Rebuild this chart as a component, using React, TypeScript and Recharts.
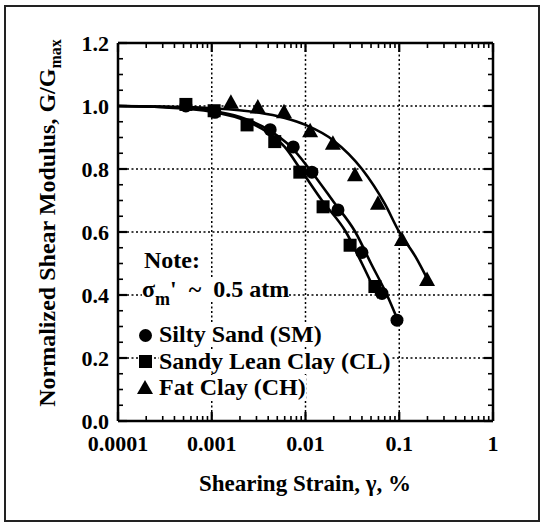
import React from "react";
import {
  ComposedChart,
  XAxis,
  YAxis,
  Line,
  Scatter,
  Legend,
} from "recharts";

const FONT = "Liberation Serif";

// axis ticks
const strainTicks = [0.0001, 0.001, 0.01, 0.1, 1];
const strainMinorTicks = [
  0.0002, 0.0003, 0.0004, 0.0005, 0.0006, 0.0007, 0.0008, 0.0009,
  0.002, 0.003, 0.004, 0.005, 0.006, 0.007, 0.008, 0.009,
  0.02, 0.03, 0.04, 0.05, 0.06, 0.07, 0.08, 0.09,
  0.2, 0.3, 0.4, 0.5, 0.6, 0.7, 0.8, 0.9,
];
const modulusTicks = [0, 0.2, 0.4, 0.6, 0.8, 1.0, 1.2];
const modulusMinorTicks = [
  0.05, 0.1, 0.15, 0.25, 0.3, 0.35, 0.45, 0.5, 0.55, 0.65, 0.7, 0.75,
  0.85, 0.9, 0.95, 1.05, 1.1, 1.15,
];

const seriesNames = ["Silty Sand (SM)", "Sandy Lean Clay (CL)", "Fat Clay (CH)"];

// measured points
const smStrain = [0.00053, 0.00108, 0.0042, 0.0074, 0.0117, 0.0222, 0.04, 0.0655, 0.0946];
const smRatio = [1.0, 0.98, 0.925, 0.87, 0.79, 0.67, 0.535, 0.405, 0.32];
const clStrain = [0.00053, 0.00106, 0.00238, 0.0047, 0.0087, 0.0154, 0.0299, 0.055];
const clRatio = [1.005, 0.985, 0.94, 0.887, 0.79, 0.68, 0.558, 0.427];
const chStrain = [0.0016, 0.0031, 0.0059, 0.0112, 0.0196, 0.0337, 0.0593, 0.107, 0.198];
const chRatio = [1.01, 0.995, 0.98, 0.92, 0.88, 0.78, 0.69, 0.575, 0.448];

// fitted curves
const smFitStrain = [0.0001, 0.0003, 0.001, 0.002, 0.004, 0.007, 0.011, 0.02, 0.034, 0.05, 0.074, 0.095];
const smFitRatio = [1.0, 0.997, 0.985, 0.965, 0.925, 0.87, 0.8, 0.695, 0.6, 0.5, 0.4, 0.325];
const clFitStrain = [0.0001, 0.0003, 0.001, 0.002, 0.004, 0.006, 0.0088, 0.015, 0.027, 0.04, 0.06];
const clFitRatio = [1.0, 0.996, 0.982, 0.96, 0.915, 0.87, 0.8, 0.7, 0.6, 0.5, 0.39];
const chFitStrain = [0.0001, 0.0003, 0.001, 0.003, 0.006, 0.01, 0.02, 0.04, 0.07, 0.1, 0.15, 0.2];
const chFitRatio = [1.0, 0.998, 0.993, 0.98, 0.962, 0.94, 0.89, 0.8, 0.69, 0.6, 0.52, 0.45];

const rows = (xs: number[], ys: number[]) => xs.map((x, i) => ({ x, y: ys[i] }));

const xMin = strainTicks[0];
const xMax = strainTicks[strainTicks.length - 1];
const yMin = modulusTicks[0];
const yMax = modulusTicks[modulusTicks.length - 1];
const allStrainTicks = [...strainTicks, ...strainMinorTicks].sort((a, b) => a - b);
const allModulusTicks = [...modulusTicks, ...modulusMinorTicks].sort((a, b) => a - b);

// tick-mark rows along each side of the frame
const bottomTicks = allStrainTicks.map((x) => ({ x, y: yMin, major: strainTicks.includes(x) }));
const topTicks = allStrainTicks.map((x) => ({ x, y: yMax, major: strainTicks.includes(x) }));
const leftTicks = allModulusTicks.map((y) => ({ x: xMin, y, major: modulusTicks.includes(y) }));
const rightTicks = allModulusTicks.map((y) => ({ x: xMax, y, major: modulusTicks.includes(y) }));

const isMajor = (p: any) => Boolean(p.payload?.major ?? p.major);
const tickLen = (p: any) => (isMajor(p) ? 9 : 5);
const tickW = (p: any) => (isMajor(p) ? 2.2 : 1.6);
const BottomMark = (p: any) => <line x1={p.cx} x2={p.cx} y1={p.cy} y2={p.cy - tickLen(p)} stroke="#000" strokeWidth={tickW(p)} />;
const TopMark = (p: any) => <line x1={p.cx} x2={p.cx} y1={p.cy} y2={p.cy + tickLen(p)} stroke="#000" strokeWidth={tickW(p)} />;
const LeftMark = (p: any) => <line x1={p.cx} x2={p.cx + tickLen(p)} y1={p.cy} y2={p.cy} stroke="#000" strokeWidth={tickW(p)} />;
const RightMark = (p: any) => <line x1={p.cx} x2={p.cx - tickLen(p)} y1={p.cy} y2={p.cy} stroke="#000" strokeWidth={tickW(p)} />;

const Dot = (p: any) => <circle cx={p.cx} cy={p.cy} r={6.5} fill="#000" />;
const Box = (p: any) => <rect x={p.cx - 6.5} y={p.cy - 6.5} width={13} height={13} fill="#000" />;
const Tri = (p: any) => (
  <polygon points={`${p.cx},${p.cy - 8.5} ${p.cx - 8},${p.cy + 6} ${p.cx + 8},${p.cy + 6}`} fill="#000" />
);

function StrainLabel(props: any) {
  const v = props.payload.value;
  if (!strainTicks.includes(v)) return null;
  return (
    <text x={props.x} y={props.y} dy="0.71em" textAnchor="middle" fontFamily={FONT} fontSize={22} fontWeight={700} fill="#000">
      {String(v)}
    </text>
  );
}

function ModulusLabel(props: any) {
  const v = props.payload.value;
  if (!modulusTicks.includes(v)) return null;
  return (
    <text x={props.x} y={props.y} dy="0.355em" textAnchor="end" fontFamily={FONT} fontSize={22} fontWeight={700} fill="#000">
      {v.toFixed(1)}
    </text>
  );
}

function XTitle() {
  return (
    <text x={305} y={491} textAnchor="middle" fontFamily={FONT} fontSize={23} fontWeight={700} fill="#000">
      Shearing Strain, γ, %
    </text>
  );
}

function YTitle() {
  return (
    <text
      x={55}
      y={223}
      transform="rotate(-90 55 223)"
      textAnchor="middle"
      fontFamily={FONT}
      fontSize={24}
      fontWeight={700}
      fill="#000"
    >
      Normalized Shear Modulus, G/G<tspan dy={6} fontSize={16}>max</tspan>
    </text>
  );
}

const txt: React.CSSProperties = {
  position: "absolute",
  fontFamily: FONT,
  fontSize: 24,
  fontWeight: 700,
  lineHeight: "24px",
  whiteSpace: "pre",
  background: "#fff",
  color: "#000",
};

function legendMark(type: string, top: number) {
  if (type === "circle")
    return <div style={{ position: "absolute", left: 10.5, top, width: 13, height: 13, borderRadius: "50%", background: "#000" }} />;
  if (type === "square")
    return <div style={{ position: "absolute", left: 10.5, top, width: 13, height: 13, background: "#000" }} />;
  return (
    <div
      style={{
        position: "absolute",
        left: 9,
        top: top - 2,
        width: 0,
        height: 0,
        borderLeft: "8px solid transparent",
        borderRight: "8px solid transparent",
        borderBottom: "14.5px solid #000",
      }}
    />
  );
}

function NoteLegend(props: any) {
  const payload = props.payload || [];
  const types = ["circle", "square", "triangle"];
  return (
    <div style={{ position: "relative", width: 300, height: 165 }}>
      <div style={{ ...txt, left: 16, top: 3 }}>Note:</div>
      <div style={{ ...txt, left: 14, top: 32 }}>
        σ<span style={{ fontSize: 18, verticalAlign: "-8px", lineHeight: 0 }}>m</span>
        {"'  ~  0.5 atm"}
      </div>
      {seriesNames.map((name, i) => {
        const entry = payload.find((e: any) => e.value === name);
        const base = 97 + i * 26.5;
        return (
          <React.Fragment key={name}>
            {legendMark(entry?.type || types[i], base - 13.5)}
            <div style={{ ...txt, left: 31, top: base - 20 }}>{name}</div>
          </React.Fragment>
        );
      })}
    </div>
  );
}

const deco = { xAxisId: "x", yAxisId: "y", legendType: "none" as const, isAnimationActive: false };

export default function App() {
  return (
    <div style={{ position: "absolute", left: 0, top: 0, width: 546, height: 526, background: "#fff" }}>
      <div
        style={{
          position: "absolute",
          left: 4,
          top: 5,
          width: 532,
          height: 513,
          border: "2px solid #222",
        }}
      />
      <ComposedChart width={546} height={526} margin={{ top: 43, right: 53, bottom: 0, left: 0 }}>
        <XAxis
          xAxisId="x"
          dataKey="x"
          type="number"
          scale="log"
          domain={[xMin, xMax]}
          interval={0}
          height={105}
          ticks={allStrainTicks}
          tick={<StrainLabel />}
          tickLine={false}
          tickSize={6}
          tickMargin={8}
          axisLine={{ stroke: "#000", strokeWidth: 2.5 }}
          label={{ content: <XTitle /> }}
        />
        <YAxis
          yAxisId="y"
          dataKey="y"
          type="number"
          domain={[yMin, yMax]}
          interval={0}
          width={118}
          ticks={allModulusTicks}
          tick={<ModulusLabel />}
          tickLine={false}
          tickSize={6}
          tickMargin={3}
          axisLine={{ stroke: "#000", strokeWidth: 2.5 }}
          label={{ content: <YTitle /> }}
        />

        {/* dotted grid at the inner major ticks */}
        {strainTicks.slice(1, -1).map((v) => (
          <Line key={`gx${v}`} {...deco} data={[{ x: v, y: yMin }, { x: v, y: yMax }]} dataKey="y" type="linear" stroke="#000" strokeWidth={1.5} strokeDasharray="2 2.5" dot={false} activeDot={false} />
        ))}
        {modulusTicks.slice(1, -1).map((v) => (
          <Line key={`gy${v}`} {...deco} data={[{ x: xMin, y: v }, { x: xMax, y: v }]} dataKey="y" type="linear" stroke="#000" strokeWidth={1.5} strokeDasharray="2 2.5" dot={false} activeDot={false} />
        ))}
        {/* top and right edges of the frame */}
        <Line {...deco} data={[{ x: xMin, y: yMax }, { x: xMax, y: yMax }]} dataKey="y" type="linear" stroke="#000" strokeWidth={2.5} dot={false} activeDot={false} />
        <Line {...deco} data={[{ x: xMax, y: yMin }, { x: xMax, y: yMax }]} dataKey="y" type="linear" stroke="#000" strokeWidth={2.5} dot={false} activeDot={false} />

        {/* inward tick marks on all four sides */}
        <Scatter {...deco} data={bottomTicks} dataKey="y" shape={BottomMark} />
        <Scatter {...deco} data={topTicks} dataKey="y" shape={TopMark} />
        <Scatter {...deco} data={leftTicks} dataKey="y" shape={LeftMark} />
        <Scatter {...deco} data={rightTicks} dataKey="y" shape={RightMark} />

        <Line xAxisId="x" yAxisId="y" data={rows(chFitStrain, chFitRatio)} dataKey="y" type="monotone" stroke="#000" strokeWidth={2.6} dot={false} legendType="none" isAnimationActive={false} />
        <Line xAxisId="x" yAxisId="y" data={rows(clFitStrain, clFitRatio)} dataKey="y" type="monotone" stroke="#000" strokeWidth={2.6} dot={false} legendType="none" isAnimationActive={false} />
        <Line xAxisId="x" yAxisId="y" data={rows(smFitStrain, smFitRatio)} dataKey="y" type="monotone" stroke="#000" strokeWidth={2.6} dot={false} legendType="none" isAnimationActive={false} />

        <Scatter xAxisId="x" yAxisId="y" name={seriesNames[0]} data={rows(smStrain, smRatio)} dataKey="y" shape={Dot} legendType="circle" fill="#000" isAnimationActive={false} />
        <Scatter xAxisId="x" yAxisId="y" name={seriesNames[1]} data={rows(clStrain, clRatio)} dataKey="y" shape={Box} legendType="square" fill="#000" isAnimationActive={false} />
        <Scatter xAxisId="x" yAxisId="y" name={seriesNames[2]} data={rows(chStrain, chRatio)} dataKey="y" shape={Tri} legendType="triangle" fill="#000" isAnimationActive={false} />

        <Legend
          layout="vertical"
          align="center"
          verticalAlign="middle"
          content={<NoteLegend />}
          wrapperStyle={{ left: 128, top: 245, width: 300, height: 165 }}
        />
      </ComposedChart>
    </div>
  );
}
